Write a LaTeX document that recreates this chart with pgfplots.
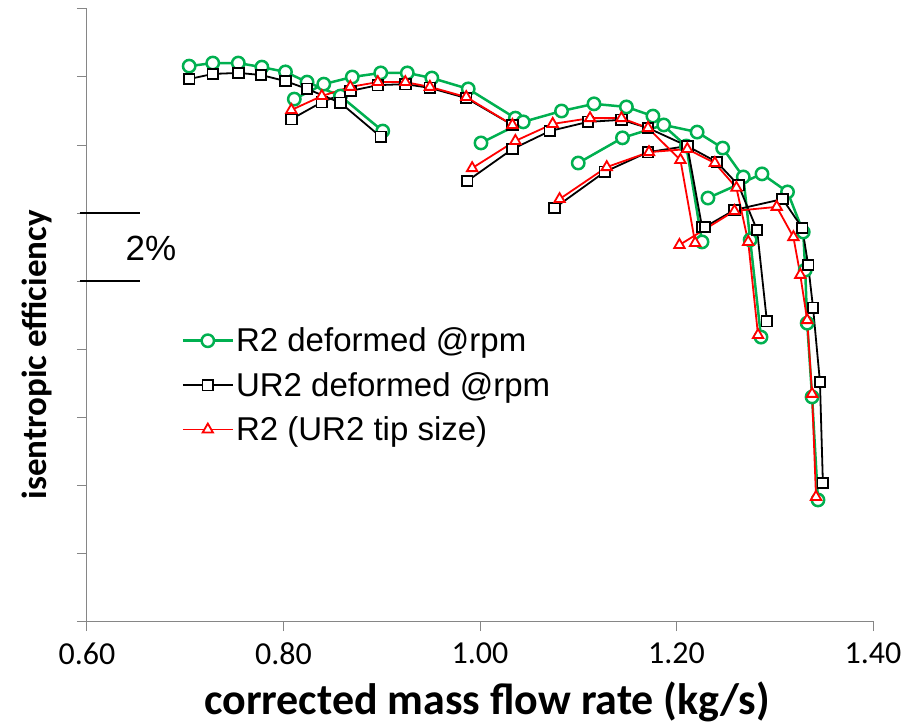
\documentclass[border=0pt]{standalone}
\usepackage{pgfplots}
\pgfplotsset{compat=1.18}
\usepackage{fontspec}
\setmainfont{Carlito}
\newfontfamily\arialfont{Liberation Sans}
\definecolor{xlgreen}{RGB}{0,176,80}
\definecolor{axgray}{RGB}{134,134,134}
\pgfplotsset{
  gstyle/.style={color=xlgreen, line width=2.5pt, mark=*, mark size=6.2pt, mark options={fill=white, draw=xlgreen, line width=2.5pt, solid}},
  kstyle/.style={color=black, line width=1.8pt, mark=square*, mark size=5.3pt, mark options={fill=white, draw=black, line width=1.8pt, solid}},
  rstyle/.style={color=red, line width=1.8pt, mark=triangle*, mark size=6pt, mark options={fill=white, draw=red, line width=1.8pt, solid}},
}
\begin{document}
\begin{tikzpicture}[x=1pt,y=1pt]
\useasboundingbox (-87,-103) rectangle (819,621);
\begin{axis}[
  at={(0,0)}, anchor=south west, scale only axis,
  width=786pt, height=612pt,
  xmin=0.6, xmax=1.4, ymin=0, ymax=18,
  axis lines*=left,
  axis line style={-, draw=axgray, line width=1pt},
  every outer x axis line/.append style={-},
  every outer y axis line/.append style={-},
  xtick={0.6,0.8,1.0,1.2,1.4},
  ytick={0,2,4,6,8,10,12,14,16,18},
  yticklabels={},
  tick style={draw=axgray, line width=1pt},
  tick align=outside,
  major tick length=10pt,
  xticklabel style={/pgf/number format/fixed, /pgf/number format/fixed zerofill, /pgf/number format/precision=2, /pgf/number format/assume math mode=true, yshift=-8pt},
  ticklabel style={font=\fontsize{32}{38}\selectfont, text=black},
  xlabel={\textbf{corrected mass flow rate (kg/s)}},
  ylabel={\textbf{isentropic efficiency}},
  xlabel style={font=\fontsize{44}{50}\selectfont, at={(axis description cs:0.509,-0.1325)}, anchor=center},
  ylabel style={font=\fontsize{35}{42}\selectfont, at={(axis description cs:-0.0636,0.435)}, anchor=center, rotate=0},
  clip=false,
  legend style={at={(axis cs:0.693,8.74)}, anchor=north west, draw=none, fill=none,
    font=\arialfont\fontsize{33}{40}\selectfont, row sep=15pt},
  legend cell align=left,
  legend image code/.code={\draw[mark repeat=2, mark phase=2] plot coordinates {(0pt,0pt) (25pt,0pt) (50pt,0pt)};},
]
% ---------------- R2 deformed @rpm (green) ----------------
\addplot[gstyle] coordinates {(0.704,16.32) (0.728,16.41) (0.754,16.41) (0.778,16.29) (0.802,16.15) (0.824,15.85) (0.858,15.44) (0.901,14.41)};
\addlegendentry{R2 deformed @rpm}
\addplot[gstyle, forget plot] coordinates {(0.811,15.35) (0.841,15.79) (0.870,16.00) (0.899,16.12) (0.926,16.12) (0.951,15.97) (0.988,15.65) (1.036,14.79)};
\addplot[gstyle, forget plot] coordinates {(1.001,14.06) (1.044,14.68) (1.083,15.00) (1.116,15.21) (1.149,15.12) (1.176,14.85) (1.210,13.97) (1.226,11.15)};
\addplot[gstyle, forget plot] coordinates {(1.100,13.47) (1.145,14.21) (1.187,14.59) (1.221,14.38) (1.247,13.91) (1.268,13.06) (1.275,11.21) (1.286,8.35)};
\addplot[gstyle, forget plot] coordinates {(1.232,12.44) (1.287,13.15) (1.313,12.62) (1.329,11.44) (1.331,10.32) (1.333,8.76) (1.338,6.59) (1.344,3.56)};
% ---------------- UR2 deformed @rpm (black) ----------------
\addplot[kstyle] coordinates {(0.704,15.94) (0.728,16.09) (0.754,16.12) (0.777,16.06) (0.802,15.88) (0.824,15.65) (0.858,15.24) (0.899,14.24)};
\addlegendentry{UR2 deformed @rpm}
\addplot[kstyle, forget plot] coordinates {(0.808,14.76) (0.839,15.26) (0.868,15.59) (0.896,15.76) (0.924,15.79) (0.949,15.68) (0.986,15.38) (1.033,14.59)};
\addplot[kstyle, forget plot] coordinates {(0.987,12.94) (1.033,13.88) (1.071,14.41) (1.110,14.68) (1.144,14.74) (1.171,14.50) (1.211,13.97) (1.226,11.59)};
\addplot[kstyle, forget plot] coordinates {(1.076,12.15) (1.127,13.21) (1.171,13.79) (1.211,13.97) (1.241,13.50) (1.263,12.82) (1.282,11.50) (1.292,8.82)};
\addplot[kstyle, forget plot] coordinates {(1.229,11.59) (1.259,12.09) (1.308,12.41) (1.328,11.56) (1.334,10.47) (1.339,9.21) (1.346,7.03) (1.349,4.06)};
% ---------------- R2 (UR2 tip size) (red) ----------------
\addplot[rstyle] coordinates {(0.808,15.03) (0.839,15.44) (0.868,15.71) (0.896,15.85) (0.924,15.85) (0.949,15.71) (0.986,15.41) (1.033,14.59)};
\addlegendentry{R2 (UR2 tip size)}
\addplot[rstyle, forget plot] coordinates {(0.992,13.32) (1.036,14.12) (1.074,14.62) (1.112,14.79) (1.144,14.79) (1.171,14.50) (1.204,13.56) (1.219,11.12)};
\addplot[rstyle, forget plot] coordinates {(1.081,12.41) (1.129,13.35) (1.172,13.79) (1.211,13.88) (1.239,13.47) (1.261,12.74) (1.273,11.15) (1.283,8.41)};
\addplot[rstyle, forget plot] coordinates {(1.203,11.06) (1.259,12.06) (1.302,12.18) (1.319,11.29) (1.326,10.18) (1.333,8.85) (1.338,6.68) (1.342,3.65)};
% ---------------- 2% scale bar ----------------
\draw[black, line width=1.8pt] (axis cs:0.5925,12) -- (axis cs:0.654,12);
\draw[black, line width=1.8pt] (axis cs:0.5925,10) -- (axis cs:0.654,10);
\node[anchor=center, font=\arialfont\fontsize{35}{42}\selectfont] at (axis cs:0.665,10.95) {2\%};
\end{axis}
\end{tikzpicture}
\end{document}
